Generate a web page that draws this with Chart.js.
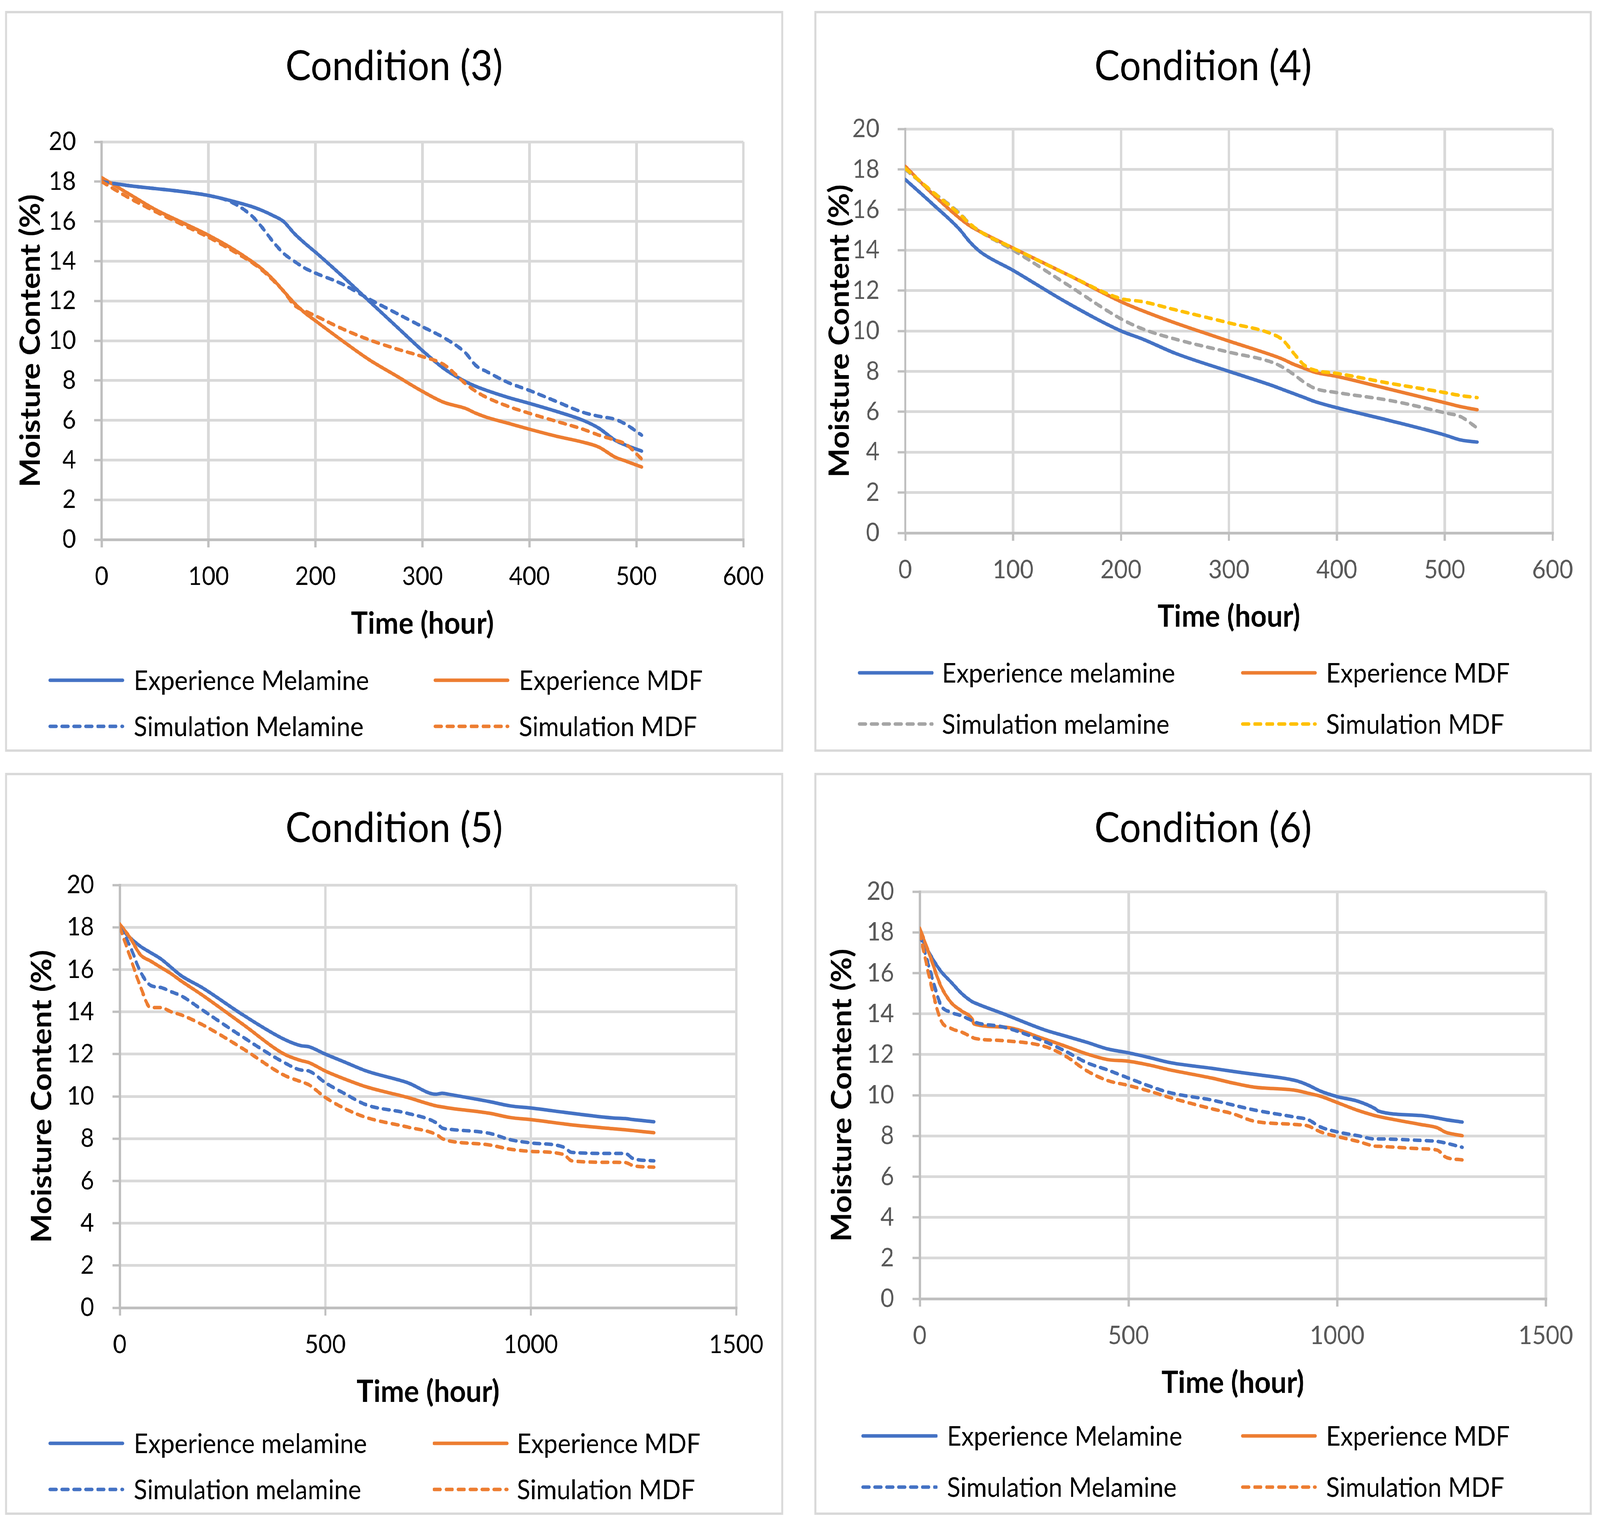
<!DOCTYPE html>
<html>
<head>
<meta charset="utf-8">
<script src="https://cdn.jsdelivr.net/npm/chart.js@4.4.1/dist/chart.umd.min.js"></script>
<style>
html, body { margin: 0; padding: 0; background: #fff; overflow: hidden; }
#stage { position: absolute; left: 0; top: 0; width: 4486px; height: 3903px; transform-origin: 0 0; background: #fff; }
.panel { position: absolute; box-sizing: border-box; border: 6px solid #D9D9D9; background: #fff; }
.panel canvas { position: absolute; left: 0; top: 0; }
</style>
</head>
<body>
<div id="stage"></div>
<script>
// ---- data ----
// Condition (3)
const c3Time = [0, 25, 50, 75, 100, 120, 140, 150, 160, 170, 180, 190, 200, 225, 250, 275, 300, 320, 340, 350, 360, 380, 400, 425, 450, 465, 480, 490, 505];
const c3ExpMelamine = [18.0, 17.8, 17.65, 17.5, 17.3, 17.05, 16.75, 16.55, 16.3, 16.0, 15.4, 14.9, 14.45, 13.25, 12.0, 10.75, 9.5, 8.6, 7.95, 7.7, 7.5, 7.15, 6.85, 6.45, 6.0, 5.6, 5.0, 4.75, 4.45];
const c3ExpMdf = [18.2, 17.4, 16.6, 15.95, 15.3, 14.7, 14.0, 13.6, 13.1, 12.5, 11.9, 11.4, 11.0, 10.0, 9.05, 8.25, 7.45, 6.9, 6.6, 6.35, 6.15, 5.85, 5.55, 5.2, 4.9, 4.65, 4.15, 3.95, 3.65];
const c3SimMelamine = [18.0, 17.8, 17.65, 17.5, 17.3, 17.0, 16.3, 15.7, 15.0, 14.4, 14.0, 13.65, 13.4, 12.85, 12.1, 11.4, 10.7, 10.15, 9.4, 8.75, 8.45, 7.9, 7.5, 6.95, 6.4, 6.2, 6.05, 5.8, 5.25];
const c3SimMdf = [18.0, 17.2, 16.5, 15.85, 15.2, 14.6, 13.95, 13.55, 13.05, 12.5, 11.8, 11.5, 11.25, 10.6, 10.05, 9.6, 9.2, 8.8, 7.85, 7.45, 7.15, 6.7, 6.35, 5.95, 5.55, 5.25, 5.0, 4.8, 4.05];

// Condition (4)
const c4Time = [0, 25, 50, 60, 70, 100, 150, 200, 220, 250, 300, 340, 350, 360, 370, 380, 400, 450, 500, 515, 530];
const c4ExpMelamine = [17.5, 16.3, 15.05, 14.4, 13.9, 13.0, 11.4, 10.0, 9.6, 8.9, 8.0, 7.3, 7.1, 6.9, 6.7, 6.5, 6.2, 5.55, 4.85, 4.6, 4.5];
const c4ExpMdf = [18.15, 16.8, 15.6, 15.2, 14.9, 14.1, 12.8, 11.45, 11.0, 10.4, 9.5, 8.8, 8.6, 8.35, 8.15, 7.95, 7.75, 7.1, 6.45, 6.25, 6.1];
const c4SimMelamine = [18.0, 16.9, 15.85, 15.3, 14.9, 14.0, 12.3, 10.6, 10.1, 9.6, 8.95, 8.45, 8.2, 7.85, 7.45, 7.15, 6.95, 6.55, 5.95, 5.75, 5.2];
const c4SimMdf = [18.05, 16.9, 15.8, 15.3, 14.9, 14.1, 12.8, 11.6, 11.45, 11.05, 10.4, 9.85, 9.55, 8.9, 8.3, 8.05, 7.9, 7.4, 6.95, 6.8, 6.7];

// Condition (5)
const c5Time = [0, 25, 50, 75, 100, 125, 150, 200, 300, 400, 440, 460, 500, 550, 600, 700, 770, 785, 800, 900, 950, 1000, 1080, 1100, 1200, 1230, 1250, 1300];
const c5ExpMelamine = [18.0, 17.5, 17.1, 16.8, 16.5, 16.1, 15.7, 15.15, 13.85, 12.7, 12.4, 12.35, 12.0, 11.6, 11.2, 10.65, 10.1, 10.15, 10.1, 9.75, 9.55, 9.45, 9.25, 9.2, 8.98, 8.95, 8.9, 8.8];
const c5ExpMdf = [18.15, 17.5, 16.7, 16.4, 16.1, 15.8, 15.45, 14.8, 13.4, 12.0, 11.7, 11.6, 11.2, 10.8, 10.45, 9.95, 9.55, 9.5, 9.45, 9.2, 9.0, 8.9, 8.7, 8.65, 8.47, 8.42, 8.38, 8.28];
const c5SimMelamine = [18.0, 17.1, 15.9, 15.25, 15.15, 14.95, 14.75, 14.1, 12.8, 11.6, 11.25, 11.2, 10.65, 10.1, 9.6, 9.2, 8.75, 8.5, 8.45, 8.25, 7.95, 7.8, 7.6, 7.35, 7.3, 7.3, 7.05, 6.95];
const c5SimMdf = [18.0, 16.6, 15.2, 14.2, 14.2, 14.0, 13.85, 13.4, 12.25, 11.0, 10.7, 10.55, 9.95, 9.4, 9.0, 8.55, 8.2, 8.0, 7.9, 7.7, 7.5, 7.4, 7.25, 6.95, 6.88, 6.87, 6.72, 6.65];

// Condition (6)
const c6Time = [0, 25, 50, 75, 100, 125, 130, 200, 300, 350, 400, 450, 500, 550, 600, 700, 750, 800, 900, 930, 960, 1000, 1050, 1090, 1100, 1200, 1240, 1260, 1300];
const c6ExpMelamine = [17.9, 16.9, 16.1, 15.55, 15.0, 14.6, 14.55, 14.0, 13.2, 12.9, 12.6, 12.27, 12.08, 11.85, 11.6, 11.32, 11.17, 11.03, 10.72, 10.5, 10.2, 9.93, 9.7, 9.35, 9.21, 9.0, 8.88, 8.8, 8.68];
const c6ExpMdf = [18.2, 16.8, 15.38, 14.55, 14.14, 13.75, 13.5, 13.35, 12.75, 12.4, 12.03, 11.75, 11.67, 11.48, 11.24, 10.84, 10.6, 10.4, 10.24, 10.1, 9.95, 9.64, 9.25, 9.0, 8.95, 8.56, 8.4, 8.18, 8.01];
const c6SimMelamine = [17.9, 16.1, 14.45, 14.07, 13.9, 13.66, 13.6, 13.35, 12.63, 12.15, 11.6, 11.24, 10.84, 10.45, 10.12, 9.76, 9.52, 9.28, 8.92, 8.8, 8.44, 8.2, 8.01, 7.85, 7.85, 7.78, 7.73, 7.65, 7.44];
const c6SimMdf = [18.0, 15.6, 13.7, 13.28, 13.1, 12.85, 12.8, 12.68, 12.39, 11.91, 11.2, 10.72, 10.48, 10.2, 9.88, 9.33, 9.09, 8.73, 8.56, 8.49, 8.2, 7.97, 7.73, 7.5, 7.49, 7.37, 7.3, 6.96, 6.82];

const yTicks = [0, 20, 2];          // min, max, step
const xTicksShort = [0, 600, 100];
const xTicksLong = [0, 1500, 500];

const xAxisTitle = 'Time (hour)';
const yAxisTitle = 'Moisture Content (%)';

const BLUE = '#4472C4', ORANGE = '#ED7D31', GRAY = '#A5A5A5', GOLD = '#FFC000';
const DASH = [17, 16.5];

// ---- panels: frame, plot area and text positions in page pixels ----
const panels = [
  {
    title: 'Condition (3)', box: [14, 28, 2196, 1924], plot: [285, 363, 2084, 1381],
    xTicks: xTicksShort, tickColor: '#000000', titleY: 205, xTitleY: 1622, yTitleX: 112,
    legendRows: [1741, 1859], legendCols: [[136, 348, 375], [1216, 1428, 1455]],
    time: c3Time,
    series: [
      ['Experience Melamine', c3ExpMelamine, BLUE, false],
      ['Experience MDF', c3ExpMdf, ORANGE, false],
      ['Simulation Melamine', c3SimMelamine, BLUE, true],
      ['Simulation MDF', c3SimMdf, ORANGE, true]
    ]
  },
  {
    title: 'Condition (4)', box: [2283, 28, 4463, 1924], plot: [2538, 330, 4353, 1364],
    xTicks: xTicksShort, tickColor: '#595959', titleY: 205, xTitleY: 1604, yTitleX: 2380,
    legendRows: [1722, 1853], legendCols: [[2405, 2618, 2641], [3480, 3692, 3718]],
    time: c4Time,
    series: [
      ['Experience melamine', c4ExpMelamine, BLUE, false],
      ['Experience MDF', c4ExpMdf, ORANGE, false],
      ['Simulation melamine', c4SimMelamine, GRAY, true],
      ['Simulation MDF', c4SimMdf, GOLD, true]
    ]
  },
  {
    title: 'Condition (5)', box: [14, 1978, 2196, 3877], plot: [336, 2265, 2064, 3347],
    xTicks: xTicksLong, tickColor: '#000000', titleY: 2155, xTitleY: 3588, yTitleX: 144,
    legendRows: [3694, 3812], legendCols: [[136, 348, 375], [1213, 1426, 1449]],
    time: c5Time,
    series: [
      ['Experience melamine', c5ExpMelamine, BLUE, false],
      ['Experience MDF', c5ExpMdf, ORANGE, false],
      ['Simulation melamine', c5SimMelamine, BLUE, true],
      ['Simulation MDF', c5SimMdf, ORANGE, true]
    ]
  },
  {
    title: 'Condition (6)', box: [2283, 1978, 4463, 3877], plot: [2579, 2282, 4334, 3324],
    xTicks: xTicksLong, tickColor: '#595959', titleY: 2155, xTitleY: 3565, yTitleX: 2387,
    legendRows: [3675, 3806], legendCols: [[2415, 2629, 2655], [3480, 3692, 3718]],
    time: c6Time,
    series: [
      ['Experience Melamine', c6ExpMelamine, BLUE, false],
      ['Experience MDF', c6ExpMdf, ORANGE, false],
      ['Simulation Melamine', c6SimMelamine, BLUE, true],
      ['Simulation MDF', c6SimMdf, ORANGE, true]
    ]
  }
];

const Y_AXIS_W = 200;
const X_AXIS_H = 160;

// the layout is laid out for 4486 x 3903; stretch it onto the real viewport
const stage = document.getElementById('stage');
const sx = window.innerWidth / 4486;
const sy = window.innerHeight / 3903;
stage.style.transform = 'scale(' + sx + ',' + sy + ')';

// titles, axis titles and the 2x2 legend
const panelText = {
  id: 'panelText',
  afterDraw(chart, args, o) {
    const ctx = chart.ctx;
    const a = chart.chartArea;
    ctx.save();
    ctx.fillStyle = '#000';
    ctx.textBaseline = 'alphabetic';
    ctx.textAlign = 'center';
    ctx.font = '107px Lato';
    ctx.fillText(o.title, chart.width / 2, o.titleY - o.oy);

    ctx.font = 'bold 79px Lato';
    ctx.fillText(xAxisTitle, (a.left + a.right) / 2, o.xTitleY - o.oy);
    ctx.save();
    ctx.translate(o.yTitleX - o.ox, (a.top + a.bottom) / 2);
    ctx.rotate(-Math.PI / 2);
    ctx.fillText(yAxisTitle, 0, 0);
    ctx.restore();

    ctx.font = '70px Lato';
    ctx.textAlign = 'left';
    chart.data.datasets.forEach((ds, i) => {
      const y = o.legendRows[Math.floor(i / 2)] - o.oy;
      const col = o.legendCols[i % 2];
      ctx.beginPath();
      ctx.strokeStyle = ds.borderColor;
      ctx.lineWidth = 9;
      ctx.lineCap = 'round';
      ctx.setLineDash(ds.borderDash || []);
      ctx.moveTo(col[0] - o.ox + 4.5, y);
      ctx.lineTo(col[1] - o.ox - 4.5, y);
      ctx.stroke();
      ctx.setLineDash([]);
      ctx.fillText(ds.label, col[2] - o.ox, y + 25);
    });
    ctx.restore();
  }
};

function gridColor(c) {
  return c.tick && c.tick.value === 0 ? 'rgba(0,0,0,0)' : '#D9D9D9';
}

panels.forEach(p => {
  const [bl, bt, br, bb] = p.box;
  const div = document.createElement('div');
  div.className = 'panel';
  div.style.left = bl + 'px';
  div.style.top = bt + 'px';
  div.style.width = (br - bl) + 'px';
  div.style.height = (bb - bt) + 'px';
  const canvas = document.createElement('canvas');
  const cx = bl + 6, cy = bt + 6, cw = br - bl - 12, ch = bb - bt - 12;
  canvas.width = cw;
  canvas.height = ch;
  canvas.style.width = cw + 'px';
  canvas.style.height = ch + 'px';
  div.appendChild(canvas);
  stage.appendChild(div);

  const [pl, pt, pr, pb] = p.plot;
  const datasets = p.series.map((s, i) => ({
    label: s[0],
    data: p.time.map((t, k) => ({ x: t, y: s[1][k] })),
    borderColor: s[2],
    backgroundColor: s[2],
    borderWidth: 9,
    borderDash: s[3] ? DASH : [],
    borderCapStyle: 'round',
    borderJoinStyle: 'round',
    pointRadius: 0,
    cubicInterpolationMode: 'monotone',
    fill: false,
    order: 3 - i
  }));

  const tickFont = { family: 'Lato', size: 66 };

  new Chart(canvas, {
    type: 'line',
    data: { datasets },
    options: {
      responsive: false,
      animation: false,
      devicePixelRatio: 1,
      layout: {
        padding: {
          left: pl - cx - Y_AXIS_W,
          top: pt - cy,
          right: cx + cw - pr,
          bottom: cy + ch - pb - X_AXIS_H
        }
      },
      plugins: {
        legend: { display: false },
        title: { display: false },
        tooltip: { enabled: false },
        panelText: {
          title: p.title, titleY: p.titleY, xTitleY: p.xTitleY, yTitleX: p.yTitleX,
          legendRows: p.legendRows, legendCols: p.legendCols, ox: cx, oy: cy
        }
      },
      scales: {
        x: {
          type: 'linear',
          min: p.xTicks[0],
          max: p.xTicks[1],
          afterFit: s => { s.height = X_AXIS_H; },
          ticks: {
            stepSize: p.xTicks[2], color: p.tickColor, font: tickFont,
            padding: 35, maxRotation: 0, autoSkip: false,
            callback: v => String(v)
          },
          grid: { color: gridColor, lineWidth: 7, tickLength: 20, tickColor: '#BFBFBF', tickWidth: 6 },
          border: { color: '#BFBFBF', width: 7 }
        },
        y: {
          type: 'linear',
          min: yTicks[0],
          max: yTicks[1],
          afterFit: s => { s.width = Y_AXIS_W; },
          ticks: {
            stepSize: yTicks[2], color: p.tickColor, font: tickFont,
            padding: 51, callback: v => String(v)
          },
          grid: { color: gridColor, lineWidth: 7, tickLength: 21, tickColor: '#BFBFBF', tickWidth: 6 },
          border: { color: '#BFBFBF', width: 6 }
        }
      }
    },
    plugins: [panelText]
  });
});
</script>
</body>
</html>
